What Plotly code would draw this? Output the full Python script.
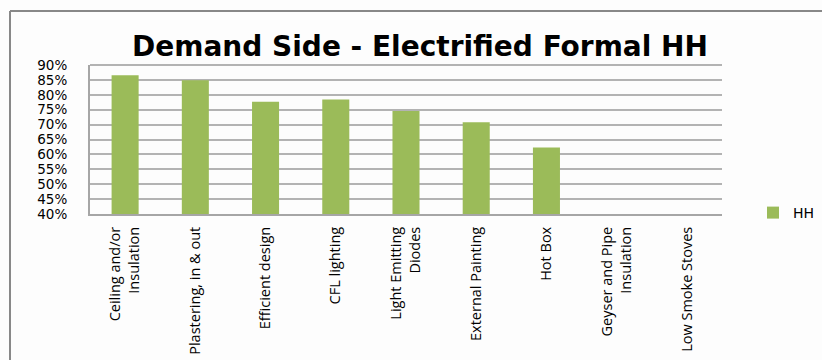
import plotly.graph_objects as go

# Measures and share of households (fraction)
categories = [
    "Ceiling and/or<br>Insulation",
    "Plastering, in & out",
    "Efficient design",
    "CFL lighting",
    "Light Emitting<br>Diodes",
    "External Painting",
    "Hot Box",
    "Geyser and Pipe<br>Insulation",
    "Low Smoke Stoves",
]
hh_values = [0.866, 0.849, 0.777, 0.784, 0.746, 0.708, 0.623, None, None]
tick_vals = [0.40, 0.45, 0.50, 0.55, 0.60, 0.65, 0.70, 0.75, 0.80, 0.85, 0.90]

W, H = 822, 360
L, R, T, B = 90, 100, 65, 146

fig = go.Figure()
fig.add_trace(go.Bar(
    x=categories, y=hh_values, name="HH",
    marker=dict(color="#9bbb59", line=dict(width=0)),
))

def px_x(p):
    return (p - L) / (W - L - R)

def px_y(p):
    return (H - B - p) / (H - T - B)

fig.update_layout(
    width=W, height=H,
    margin=dict(l=L, r=R, t=T, b=B, pad=0, autoexpand=False),
    paper_bgcolor="#fdfdfd", plot_bgcolor="#fdfdfd",
    bargap=0.615,
    title=dict(
        text="<b>Demand Side - Electrified Formal HH</b>",
        x=420 / W, xanchor="center", xref="container",
        y=1 - 46 / H, yanchor="middle",
        font=dict(family="DejaVu Sans", size=28, color="#000000"),
    ),
    showlegend=True,
    legend=dict(
        xref="container", yref="container",
        x=753 / W, xanchor="left", y=(H - 213) / H, yanchor="middle",
        font=dict(family="DejaVu Sans", size=14, color="#000000"),
        bgcolor="rgba(0,0,0,0)", itemwidth=30,
    ),
    font=dict(family="DejaVu Sans", color="#000000"),
    xaxis=dict(
        tickangle=-90, showgrid=False, showline=True,
        linecolor="#a6a6a6", linewidth=2, ticks="",
        tickfont=dict(family="Open Sans", size=14.5),
        ticklabelstandoff=5,
        range=[-0.5, len(categories) - 0.5],
    ),
    yaxis=dict(
        range=[0.40, 0.90], tickvals=tick_vals, tickformat=".0%",
        showgrid=True, gridcolor="#b3b3b3", gridwidth=2,
        showline=True, linecolor="#a6a6a6", linewidth=2, ticks="",
        tickfont=dict(family="DejaVu Sans", size=13.5),
        ticklabelstandoff=18,
        zeroline=False,
    ),
    shapes=[
        dict(type="line", xref="paper", yref="paper",
             x0=px_x(10), x1=px_x(W), y0=px_y(11), y1=px_y(11),
             line=dict(color="#888888", width=2)),
        dict(type="line", xref="paper", yref="paper",
             x0=px_x(10), x1=px_x(10), y0=px_y(11), y1=px_y(H),
             line=dict(color="#888888", width=2)),
        dict(type="line", xref="paper", yref="paper",
             x0=0, x1=1, y0=1, y1=1,
             line=dict(color="#b3b3b3", width=2)),
    ],
)

fig.write_html("out.html")
